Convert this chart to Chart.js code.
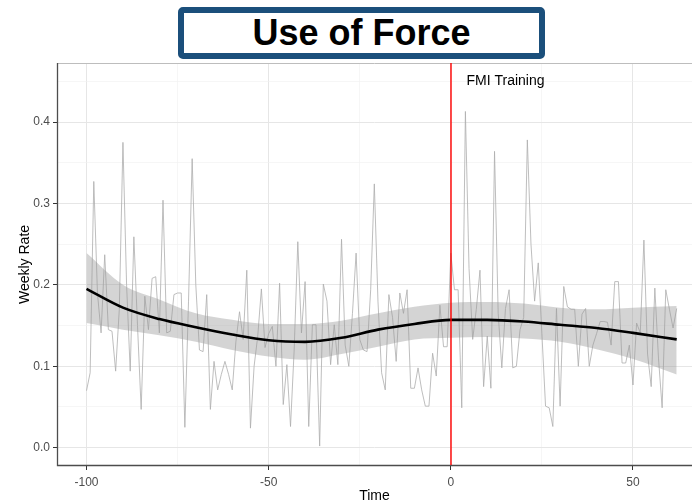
<!DOCTYPE html>
<html>
<head>
<meta charset="utf-8">
<title>Use of Force</title>
<script src="https://cdn.jsdelivr.net/npm/chart.js@4.4.1/dist/chart.umd.min.js"></script>
<style>
  html, body { margin: 0; padding: 0; background: #fff; overflow: hidden; }
  #wrap { position: relative; width: 692px; height: 503px; }
  #heading {
    position: absolute; left: 178px; top: 7px; width: 367px; height: 52px;
    box-sizing: border-box; border: 6px solid #1b4f7b; border-radius: 5px; background: #fff;
    font: bold 36px "Liberation Sans", Arial, sans-serif; color: #000;
    text-align: center; line-height: 40px;
  }
</style>
</head>
<body>
<div id="wrap">
  <canvas id="forceChart" width="692" height="503"></canvas>
  <div id="heading">Use of Force</div>
</div>
<script>
// weekly rate, weeks -100 .. 62 relative to FMI training
const firstWeek = -100;
const weeklyRate = [
  0.070, 0.092, 0.327, 0.190, 0.141, 0.237, 0.145, 0.143, 0.094, 0.170, // -100
  0.375, 0.200, 0.094, 0.259, 0.150, 0.047, 0.186, 0.145, 0.208, 0.210, // -90
  0.141, 0.304, 0.141, 0.143, 0.188, 0.190, 0.190, 0.025, 0.180, 0.355, // -80
  0.200, 0.120, 0.118, 0.188, 0.047, 0.106, 0.071, 0.090, 0.106, 0.090, // -70
  0.071, 0.130, 0.167, 0.133, 0.218, 0.024, 0.100, 0.137, 0.195, 0.123, // -60
  0.140, 0.149, 0.100, 0.202, 0.053, 0.102, 0.026, 0.120, 0.253, 0.141, // -50
  0.204, 0.026, 0.151, 0.151, 0.002, 0.201, 0.180, 0.102, 0.151, 0.102, // -40
  0.256, 0.126, 0.100, 0.165, 0.239, 0.133, 0.120, 0.118, 0.194, 0.324, // -30
  0.180, 0.092, 0.071, 0.188, 0.160, 0.106, 0.190, 0.165, 0.194, 0.073, // -20
  0.073, 0.098, 0.071, 0.051, 0.051, 0.116, 0.088, 0.175, 0.124, 0.124, // -10
  0.239, 0.194, 0.194, 0.049, 0.413, 0.220, 0.133, 0.170, 0.218, 0.075, // 0
  0.137, 0.073, 0.364, 0.165, 0.098, 0.171, 0.194, 0.098, 0.100, 0.145, // 10
  0.160, 0.378, 0.250, 0.180, 0.227, 0.140, 0.051, 0.049, 0.026, 0.171, // 20
  0.051, 0.198, 0.173, 0.170, 0.170, 0.100, 0.164, 0.171, 0.100, 0.126, // 30
  0.140, 0.155, 0.155, 0.154, 0.126, 0.204, 0.204, 0.104, 0.104, 0.126, // 40
  0.077, 0.153, 0.141, 0.255, 0.115, 0.075, 0.196, 0.110, 0.049, 0.194, // 50
  0.170, 0.147, 0.171                                                   // 60
];
const weeks = weeklyRate.map((_, i) => firstWeek + i);

// loess trend and its confidence band
const trendWeeks = [-100, -90, -80, -70, -60, -50, -40, -30, -20, -10, 0, 10, 20, 30, 40, 50, 62];
const trendFit   = [0.195, 0.172, 0.158, 0.148, 0.139, 0.132, 0.130, 0.135, 0.145, 0.152, 0.157, 0.157, 0.155, 0.151, 0.147, 0.141, 0.133];
const trendUpper = [0.239, 0.200, 0.182, 0.165, 0.157, 0.152, 0.152, 0.156, 0.165, 0.173, 0.178, 0.179, 0.177, 0.172, 0.170, 0.172, 0.174];
const trendLower = [0.153, 0.145, 0.138, 0.130, 0.120, 0.112, 0.108, 0.115, 0.124, 0.133, 0.135, 0.136, 0.134, 0.130, 0.121, 0.109, 0.090];

const xGrid = [-100, -75, -50, -25, 0, 25, 50];
const xLabels = [-100, -50, 0, 50];
const yGrid = [0, 0.05, 0.1, 0.15, 0.2, 0.25, 0.3, 0.35, 0.4, 0.45];
const yLabels = [0, 0.1, 0.2, 0.3, 0.4];

const trainingWeek = 0;
const trainingText = 'FMI Training';

const FONT = '"Liberation Sans", Arial, sans-serif';
const pts = (xs, ys) => xs.map((x, i) => ({ x: x, y: ys[i] }));
const isLabel = (list, v) => list.some(l => Math.abs(l - v) < 1e-9);

const overlay = {
  id: 'overlay',
  afterDraw(chart) {
    const { ctx, chartArea: a, scales: { x, y } } = chart;
    ctx.save();
    ctx.globalAlpha = 1;
    ctx.setLineDash([]);

    // panel frame: light top edge, darker axis lines
    ctx.lineWidth = 1;
    ctx.strokeStyle = '#bdbdbd';
    ctx.beginPath();
    ctx.moveTo(a.left, a.top + 0.5);
    ctx.lineTo(a.right, a.top + 0.5);
    ctx.stroke();
    ctx.strokeStyle = '#4d4d4d';
    ctx.lineWidth = 1.3;
    ctx.beginPath();
    ctx.moveTo(a.left + 0.5, a.top);
    ctx.lineTo(a.left + 0.5, a.bottom - 0.5);
    ctx.lineTo(a.right, a.bottom - 0.5);
    ctx.stroke();

    // training start
    const px = Math.round(x.getPixelForValue(trainingWeek));
    ctx.strokeStyle = 'rgba(255, 0, 0, 0.7)';
    ctx.lineWidth = 2;
    ctx.beginPath();
    ctx.moveTo(px, a.top);
    ctx.lineTo(px, a.bottom - 1);
    ctx.stroke();

    ctx.fillStyle = '#000';
    ctx.font = '14px ' + FONT;
    ctx.textAlign = 'center';
    ctx.textBaseline = 'middle';
    ctx.fillText(trainingText, x.getPixelForValue(15), y.getPixelForValue(0.45));
    ctx.restore();
  }
};

new Chart(document.getElementById('forceChart'), {
  type: 'line',
  data: {
    datasets: [
      {
        label: 'Trend',
        data: pts(trendWeeks, trendFit),
        borderColor: '#000',
        borderWidth: 2.6,
        pointRadius: 0,
        cubicInterpolationMode: 'monotone',
        fill: false,
        order: 0
      },
      {
        label: 'Upper',
        data: pts(trendWeeks, trendUpper),
        borderWidth: 0,
        borderColor: 'rgba(0,0,0,0)',
        backgroundColor: 'rgba(153,153,153,0.42)',
        pointRadius: 0,
        cubicInterpolationMode: 'monotone',
        fill: '+1',
        order: 1
      },
      {
        label: 'Lower',
        data: pts(trendWeeks, trendLower),
        borderWidth: 0,
        borderColor: 'rgba(0,0,0,0)',
        pointRadius: 0,
        cubicInterpolationMode: 'monotone',
        fill: false,
        order: 1
      },
      {
        label: 'Weekly Rate',
        data: pts(weeks, weeklyRate),
        borderColor: '#adadad',
        borderWidth: 0.8,
        pointRadius: 0,
        tension: 0,
        fill: false,
        order: 2
      }
    ]
  },
  options: {
    responsive: false,
    animation: false,
    layout: { padding: { top: 63, right: 0, bottom: 0, left: 0 } },
    plugins: {
      legend: { display: false },
      tooltip: { enabled: false }
    },
    scales: {
      x: {
        type: 'linear',
        min: -108.1,
        max: 66.2,
        afterBuildTicks: s => { s.ticks = xGrid.map(v => ({ value: v })); },
        afterFit: s => { s.height = 37; },
        border: { display: false },
        grid: {
          color: c => isLabel(xLabels, c.tick.value) ? '#e6e6e6' : '#f0f0f0',
          lineWidth: c => isLabel(xLabels, c.tick.value) ? 1 : 0.6,
          tickLength: 4,
          tickColor: c => isLabel(xLabels, c.tick.value) ? '#333' : 'rgba(0,0,0,0)'
        },
        ticks: {
          autoSkip: false,
          maxRotation: 0,
          padding: 5,
          color: '#4d4d4d',
          font: { family: FONT, size: 12 },
          callback: v => isLabel(xLabels, v) ? String(v) : ''
        },
        title: {
          display: true,
          text: 'Time',
          color: '#000',
          font: { family: FONT, size: 14 },
          padding: { top: 0, bottom: -2 }
        }
      },
      y: {
        type: 'linear',
        min: -0.0225,
        max: 0.4725,
        afterBuildTicks: s => { s.ticks = yGrid.map(v => ({ value: v })); },
        afterFit: s => { s.width = 57; },
        border: { display: false },
        grid: {
          color: c => isLabel(yLabels, c.tick.value) ? '#e6e6e6' : '#f0f0f0',
          lineWidth: c => isLabel(yLabels, c.tick.value) ? 1 : 0.6,
          tickLength: 4,
          tickColor: c => isLabel(yLabels, c.tick.value) ? '#333' : 'rgba(0,0,0,0)'
        },
        ticks: {
          autoSkip: false,
          padding: 3,
          color: '#4d4d4d',
          font: { family: FONT, size: 12 },
          callback: v => isLabel(yLabels, v) ? v.toFixed(1) : ''
        },
        title: {
          display: true,
          text: 'Weekly Rate',
          color: '#000',
          font: { family: FONT, size: 14 },
          padding: { top: 17, bottom: 0 }
        }
      }
    }
  },
  plugins: [overlay]
});
</script>
</body>
</html>
